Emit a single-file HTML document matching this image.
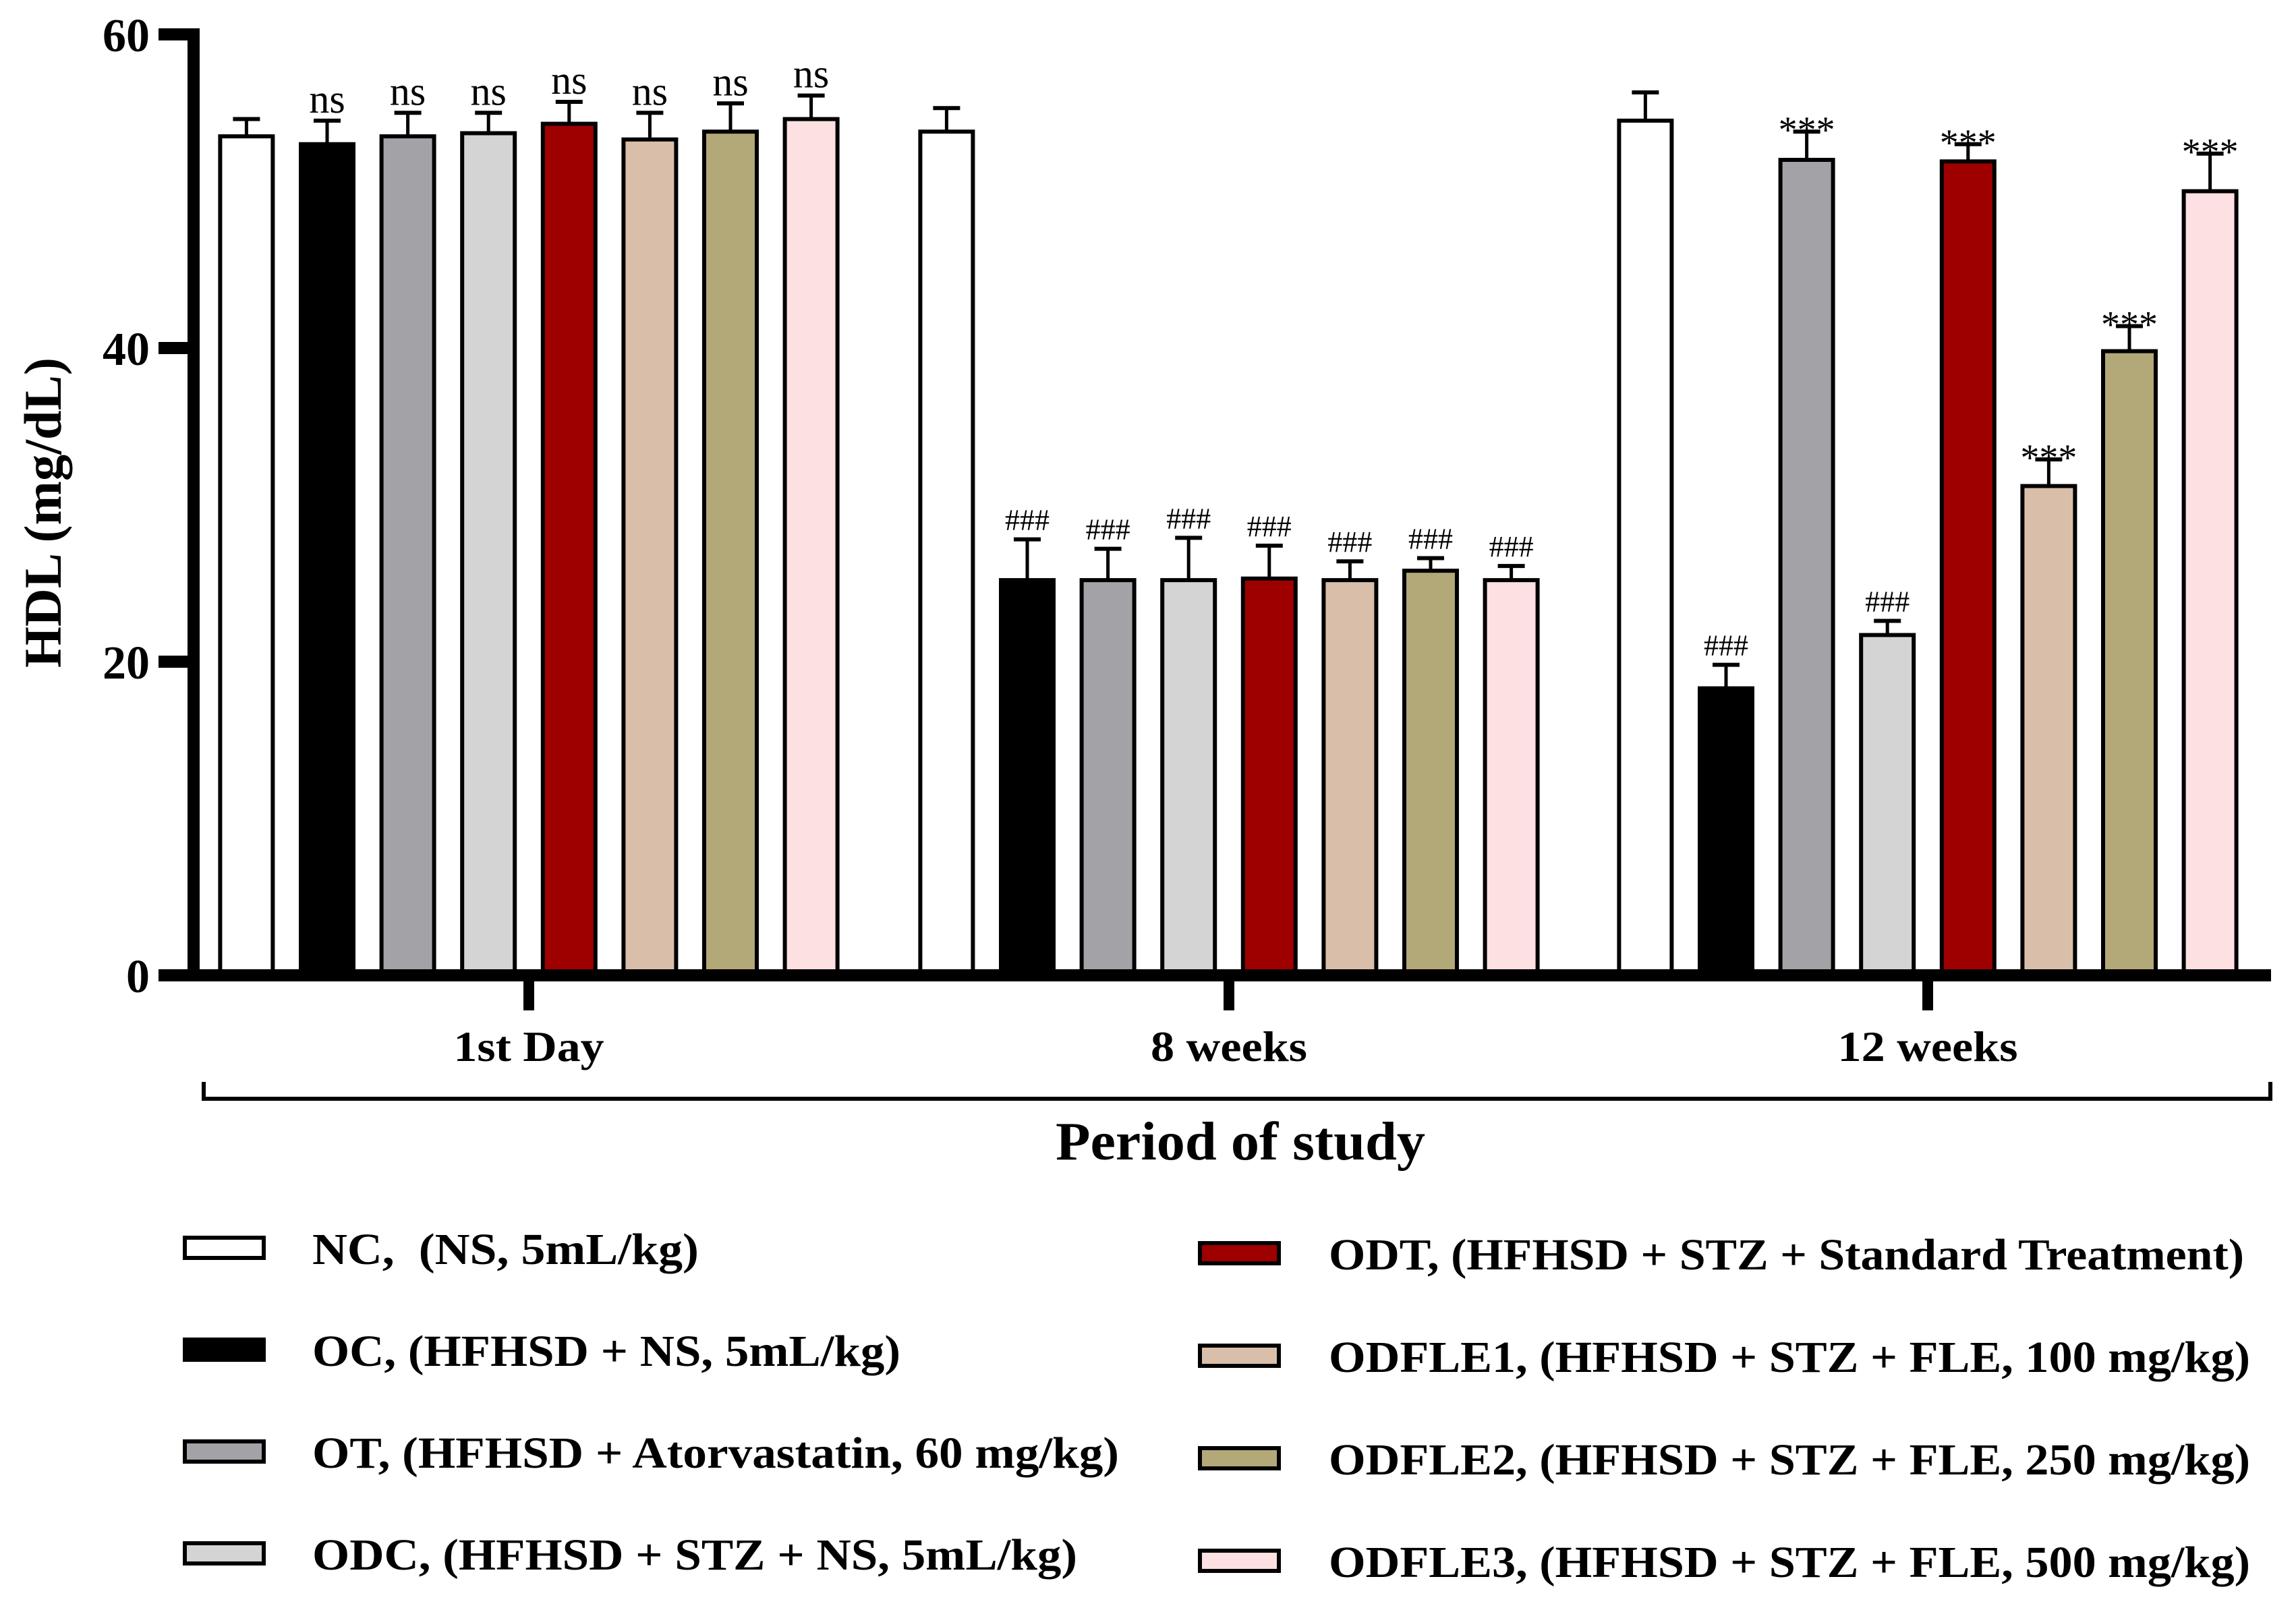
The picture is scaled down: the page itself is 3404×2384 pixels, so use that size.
<!DOCTYPE html>
<html><head><meta charset="utf-8"><style>
html,body{margin:0;padding:0;background:#fff}
svg{display:block}
text{font-family:"Liberation Serif",serif}
</style></head><body>
<svg id="chart" width="3404" height="2384" viewBox="0 0 3404 2384" xmlns="http://www.w3.org/2000/svg">
<rect width="3404" height="2384" fill="#fff"/>
<g id="marks"></g>
<g id="axes"></g>
<g id="legend"></g>
</svg>
<script>
const periods = ["1st Day", "8 weeks", "12 weeks"];
const groups = ["NC", "OC", "OT", "ODC", "ODT", "ODFLE1", "ODFLE2", "ODFLE3"];
const colors = ["#ffffff", "#000000", "#a3a2a7", "#d4d4d4", "#9e0000", "#d9bfaa", "#b3a877", "#fde0e1"];
const valuesDay1 = [53.5, 53.0, 53.5, 53.7, 54.3, 53.3, 53.8, 54.6];
const errorsDay1 = [1.1, 1.5, 1.5, 1.3, 1.4, 1.7, 1.8, 1.5];
const valuesWk8 = [53.8, 25.2, 25.2, 25.2, 25.3, 25.2, 25.8, 25.2];
const errorsWk8 = [1.5, 2.6, 2.0, 2.7, 2.1, 1.2, 0.8, 0.9];
const valuesWk12 = [54.5, 18.3, 52.0, 21.7, 51.9, 31.2, 39.8, 50.0];
const errorsWk12 = [1.8, 1.5, 1.8, 0.9, 1.1, 1.7, 1.6, 2.4];
const annotDay1 = ["", "ns", "ns", "ns", "ns", "ns", "ns", "ns"];
const annotWk8 = ["", "###", "###", "###", "###", "###", "###", "###"];
const annotWk12 = ["", "###", "***", "###", "***", "***", "***", "***"];
const yTicks = [0, 20, 40, 60];
const legendLabels = [
 "NC,\u00a0 (NS, 5mL/kg)",
 "OC, (HFHSD + NS, 5mL/kg)",
 "OT, (HFHSD + Atorvastatin, 60 mg/kg)",
 "ODC, (HFHSD + STZ + NS, 5mL/kg)",
 "ODT, (HFHSD + STZ + Standard Treatment)",
 "ODFLE1, (HFHSD + STZ + FLE, 100 mg/kg)",
 "ODFLE2, (HFHSD + STZ + FLE, 250 mg/kg)",
 "ODFLE3, (HFHSD + STZ + FLE, 500 mg/kg)"
];

const NS = "http://www.w3.org/2000/svg";
const Y0 = 1446, Y60 = 51;
function yScale(v){ return Y0 - (Y0 - Y60) * v / 60; }
const groupCenters = [784, 1822, 2858];
const barStep = 119.6, barW = 78;
function xScale(p, i){ return groupCenters[p] + (i - 3.5) * barStep; }
function mk(tag, attrs, parent){
  const e = document.createElementNS(NS, tag);
  for (const k in attrs) e.setAttribute(k, attrs[k]);
  parent.appendChild(e); return e;
}
const marks = document.getElementById('marks');
const axes = document.getElementById('axes');
const legend = document.getElementById('legend');
const allVals = [valuesDay1, valuesWk8, valuesWk12];
const allErrs = [errorsDay1, errorsWk8, errorsWk12];
const allAnn = [annotDay1, annotWk8, annotWk12];

for (let p = 0; p < 3; p++) {
  for (let i = 0; i < 8; i++) {
    const cx = xScale(p, i), v = allVals[p][i], e = allErrs[p][i];
    const top = yScale(v), et = yScale(v + e);
    const ln = mk('line', {x1: cx, x2: cx, y1: top, y2: et, stroke: '#000', 'stroke-width': 5}, marks);
    
    
    const cap = mk('line', {x1: cx - 20, x2: cx + 20, y1: et, y2: et, stroke: '#000', 'stroke-width': 6}, marks);
    
    
    const r = mk('rect', {x: cx - barW/2, y: top, width: barW, height: Y0 - top, fill: colors[i], stroke: '#000', 'stroke-width': 6}, marks);
    
    
    const a = allAnn[p][i];
    if (a) {
      let fs = 44, by = et - 14;
      if (a === 'ns') { fs = 60; by = et - 12; }
      if (a === '***') { fs = 56; by = et + 16; }
      const t = mk('text', {x: cx, y: by, 'text-anchor': 'middle', 'font-size': fs}, marks);
      t.textContent = a;
      
      
    }
  }
}

// axes
const ya = mk('rect', {x: 278, y: 42, width: 18, height: 1413, fill: '#000'}, axes);


const xa = mk('rect', {x: 278, y: 1437, width: 3089, height: 18, fill: '#000'}, axes);


yTicks.forEach(v => {
  const y = yScale(v);
  const t = mk('rect', {x: 235, y: y - 9, width: 50, height: 18, fill: '#000'}, axes);
  
  
  const l = mk('text', {x: 222, y: y + 25, 'text-anchor': 'end', 'font-size': 70, 'font-weight': 'bold'}, axes);
  l.textContent = v;
  
  
});
const labelW = [223, 232, 267];
periods.forEach((p, k) => {
  const cx = groupCenters[k];
  const t = mk('rect', {x: cx - 8, y: 1446, width: 16, height: 52, fill: '#000'}, axes);
  
  
  const l = mk('text', {x: cx - labelW[k]/2, y: 1573, 'font-size': 64, 'font-weight': 'bold', textLength: labelW[k], lengthAdjust: 'spacingAndGlyphs'}, axes);
  l.textContent = p;
  
  
});
const br = mk('path', {d: 'M302 1604 V1629 H3366 V1604', fill: 'none', stroke: '#000', 'stroke-width': 6}, axes);


const xt = mk('text', {x: 1565, y: 1719, 'font-size': 80, 'font-weight': 'bold', textLength: 548, lengthAdjust: 'spacingAndGlyphs'}, axes);
xt.textContent = 'Period of study';


const yt = mk('text', {x: 0, y: 0, 'font-size': 78, 'font-weight': 'bold', transform: 'translate(90,990) rotate(-90)', textLength: 460, lengthAdjust: 'spacingAndGlyphs'}, axes);
yt.textContent = 'HDL (mg/dL)';



// legend
const legX = [271, 1776], legTX = [463, 1970];
const legY = [1850, 2001, 2152, 2303, 1858, 2010, 2162, 2314];
const legW = [573, 872, 1196, 1134, 1357, 1366, 1366, 1366];
legendLabels.forEach((lab, i) => {
  const col = i < 4 ? 0 : 1, y = legY[i];
  const s = mk('rect', {x: legX[col] + 3, y: y - 15, width: 117, height: 30, fill: colors[i], stroke: '#000', 'stroke-width': 6}, legend);
  
  
  const t = mk('text', {x: legTX[col], y: y + 24, 'font-size': 66, 'font-weight': 'bold', textLength: legW[i], lengthAdjust: 'spacingAndGlyphs'}, legend);
  t.textContent = lab;
  
  
});
</script>
</body></html>
